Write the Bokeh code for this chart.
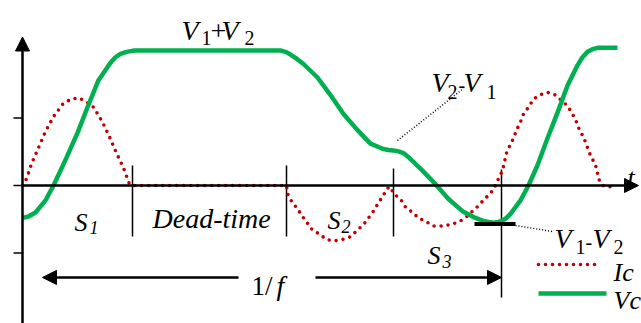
from bokeh.plotting import figure
from bokeh.models import Range1d, Arrow, NormalHead, Label
from bokeh.embed import file_html
from bokeh.resources import INLINE

# Time in ns (one switching period 1/f = 479 ns), amplitude normalised to V1+V2 = 1
vc_t = [0, 6, 13, 23, 31, 43, 55, 65, 76, 88, 93, 98, 104, 112,
        258, 263, 268, 274, 281, 295, 308, 321, 335, 348, 356, 361, 366, 371, 376, 381, 386, 400, 413,
        426, 440, 453, 460, 466, 471, 476, 480, 484, 488, 498, 506, 515, 525, 535, 545, 555,
        560, 565, 570, 575, 595]
vc_v = [-0.24, -0.23, -0.20, -0.11, 0.0, 0.19, 0.39, 0.58, 0.78, 0.91, 0.95, 0.975, 0.99, 1.0,
        1.0, 0.99, 0.97, 0.94, 0.90, 0.80, 0.67, 0.53, 0.41, 0.31, 0.285, 0.27, 0.263, 0.26, 0.253, 0.24, 0.21, 0.11, 0.01,
        -0.10, -0.19, -0.24, -0.26, -0.27, -0.275, -0.27, -0.26, -0.24, -0.21, -0.11, 0.0, 0.15, 0.35, 0.54, 0.74, 0.89,
        0.95, 0.99, 1.01, 1.02, 1.02]

ic_t = [0, 4, 9, 16, 23, 31, 41, 49, 56, 64, 71, 80, 87, 94, 101, 107, 110,
        264, 265, 270, 275, 279, 285, 290, 297, 304, 312, 320, 328, 335, 341, 346,
        351, 355, 361, 365, 368, 371, 378, 383, 390, 396, 404, 411, 420, 428, 436,
        443, 450, 456, 462, 468, 473, 476, 480, 484, 487, 491, 494, 498, 501, 506,
        511, 517, 525, 533, 545, 550, 554, 557, 561, 564, 567, 571, 574, 576, 580, 588]
ic_v = [0, 0.05, 0.16, 0.28, 0.40, 0.51, 0.61, 0.64, 0.65, 0.62, 0.58, 0.47, 0.36, 0.24, 0.13, 0.01, 0,
        0, -0.06, -0.13, -0.17, -0.22, -0.28, -0.33, -0.36, -0.40, -0.41, -0.40, -0.38, -0.33, -0.29, -0.24,
        -0.19, -0.14, -0.07, -0.02, -0.01, -0.06, -0.10, -0.16, -0.20, -0.24, -0.27, -0.30, -0.30, -0.29, -0.27,
        -0.24, -0.19, -0.15, -0.10, -0.06, 0, 0.05, 0.11, 0.24, 0.29, 0.35, 0.41, 0.47, 0.53, 0.58,
        0.64, 0.67, 0.69, 0.67, 0.59, 0.53, 0.47, 0.41, 0.36, 0.30, 0.24, 0.18, 0.13, 0.05, 0, -0.01]

# switching instants: end of S1, end of dead-time, S2/S3 boundary, end of period
switch_t = [110, 264, 371, 479]
period_ns = 479
v_min_level = -0.27     # V1-V2 plateau
y_ticks = [0.5, 0.0, -0.5]

GREEN = "#00B050"
RED = "#C00000"
SERIF = "Liberation Serif"

p = figure(width=641, height=323, output_backend="svg", toolbar_location=None,
           x_range=Range1d(-22, 619), y_range=Range1d(-1.0222, 1.3704),
           x_axis_type=None, y_axis_type=None, min_border=0,
           outline_line_color=None, background_fill_color="white",
           border_fill_color="white")
p.grid.visible = False


def head():
    return NormalHead(size=14, fill_color="black", line_color="black", line_width=1)


# axes with arrow heads
p.add_layout(Arrow(end=head(), x_start=0, y_start=-1.05, x_end=0, y_end=1.10,
                   line_width=2.5, line_color="black"))
p.add_layout(Arrow(end=head(), x_start=0, y_start=0, x_end=616, y_end=0,
                   line_width=2.5, line_color="black"))
p.segment(x0=[-9] * len(y_ticks), x1=[0] * len(y_ticks), y0=y_ticks, y1=y_ticks,
          line_color="black", line_width=1.5)

# switching markers
p.segment(x0=switch_t, x1=switch_t, y0=[0.148, 0.148, 0.126, 0.119],
          y1=[-0.378, -0.378, -0.378, -0.83], line_color="black", line_width=1.5)

# current (dotted) and capacitor voltage (solid)
p.line(ic_t, ic_v, line_color=RED, line_width=3.6, line_dash="0 7", line_cap="round")
p.line(vc_t, vc_v, line_color=GREEN, line_width=4.5, line_join="round")

# V1-V2 level bar and leader lines
p.segment(x0=[452], x1=[493], y0=[v_min_level - 0.015], y1=[v_min_level - 0.015],
          line_color="black", line_width=4)
p.segment(x0=[493, 375], x1=[530, 441], y0=[-0.296, 0.333], y1=[-0.341, 0.719],
          line_color="black", line_width=1.5, line_dash="1 2")

# period arrow 1/f
for xs, xe in [(216, 20), (293, period_ns)]:
    p.add_layout(Arrow(end=head(), x_start=xs, y_start=-0.681, x_end=xe, y_end=-0.681,
                       line_width=2.5, line_color="black"))

# legend samples
p.line([516, 578], [-0.585, -0.585], line_color=RED, line_width=3.6, line_dash="0 7", line_cap="round")
p.line([516, 584], [-0.80, -0.80], line_color=GREEN, line_width=4.5)

# text pieces: (text, t, v, size, style)
pieces = [
    ("V", 159, 1.148, 28, "italic"), ("1", 179, 1.089, 20, "normal"),
    ("+", 188, 1.148, 28, "normal"), ("V", 199, 1.148, 28, "italic"),
    ("2", 222, 1.089, 20, "normal"),
    ("V", 409, 0.763, 28, "italic"), ("2", 425, 0.696, 20, "normal"),
    ("-", 436, 0.748, 20, "normal"), ("V", 441, 0.763, 28, "italic"),
    ("1", 464, 0.696, 20, "normal"),
    ("V", 532, -0.393, 28, "italic"), ("1", 553, -0.452, 20, "normal"),
    ("-", 563, -0.415, 20, "normal"), ("V", 570, -0.393, 28, "italic"),
    ("2", 591, -0.452, 20, "normal"),
    ("S", 52, -0.274, 26, "italic"), ("1", 67, -0.311, 18, "italic"),
    ("Dead-time", 130, -0.244, 28, "italic"),
    ("S", 305, -0.259, 26, "italic"), ("2", 319, -0.304, 18, "italic"),
    ("S", 405, -0.519, 26, "italic"), ("3", 420, -0.563, 18, "italic"),
    ("t", 605, 0.059, 26, "italic"),
    ("1/", 229, -0.741, 27, "normal"), ("f", 254, -0.741, 28, "italic"),
    ("Ic", 591, -0.644, 26, "italic"),
    ("Vc", 591, -0.852, 26, "italic"),
]
for txt, x, y, size, style in pieces:
    p.add_layout(Label(x=x, y=y, text=txt, text_font=SERIF, text_font_size=f"{size}px",
                       text_font_style=style, text_align="left",
                       text_baseline="alphabetic", text_color="black"))

open("out.html", "w").write(file_html(p, INLINE))
